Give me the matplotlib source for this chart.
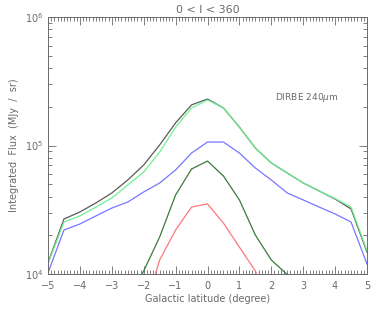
import matplotlib
matplotlib.use("Agg")
import matplotlib.pyplot as plt
from matplotlib.ticker import MultipleLocator, LogLocator, NullFormatter, FixedLocator

# Data
lat_full = [-5, -4.5, -4, -3.5, -3, -2.5, -2, -1.5, -1, -0.5, 0, 0.5, 1, 1.5, 2, 2.5, 3, 3.5, 4, 4.5, 5]
gray_vals = [1.22e4, 2.68e4, 3.04e4, 3.57e4, 4.27e4, 5.39e4, 7.05e4, 1.01e5, 1.50e5, 2.07e5, 2.30e5,
             1.96e5, 1.39e5, 9.56e4, 7.31e4, 6.11e4, 5.11e4, 4.43e4, 3.83e4, 3.21e4, 1.48e4]
green_vals = [1.20e4, 2.54e4, 2.83e4, 3.32e4, 3.90e4, 4.93e4, 6.22e4, 8.90e4, 1.39e5, 1.96e5, 2.26e5,
              1.96e5, 1.39e5, 9.56e4, 7.31e4, 6.11e4, 5.11e4, 4.43e4, 3.86e4, 3.32e4, 1.52e4]
blue_vals = [1.02e4, 2.20e4, 2.45e4, 2.83e4, 3.26e4, 3.63e4, 4.35e4, 5.11e4, 6.45e4, 8.74e4, 1.064e5,
             1.064e5, 8.74e4, 6.68e4, 5.39e4, 4.27e4, 3.77e4, 3.32e4, 2.93e4, 2.54e4, 1.196e4]
lat_dg = [-2.5, -2, -1.5, -1, -0.5, 0, 0.5, 1, 1.5, 2, 2.5, 3]
dkgreen_vals = [6.0e3, 1.055e4, 1.94e4, 4.12e4, 6.56e4, 7.57e4, 5.79e4, 3.77e4, 2.01e4, 1.285e4, 9.9e3, 6.0e3]
lat_red = [-2, -1.5, -1, -0.5, 0, 0.5, 1, 1.5, 2]
red_vals = [5.0e3, 1.285e4, 2.20e4, 3.32e4, 3.51e4, 2.49e4, 1.62e4, 1.055e4, 5.0e3]

xticks = [-5, -4, -3, -2, -1, 0, 1, 2, 3, 4, 5]
yticks = [1e4, 1e5, 1e6]
ytick_labels = ["10$^4$", "10$^5$", "10$^6$"]

tc = "#6a6a6a"
plt.rcParams['font.family'] = ['DejaVu Sans']
fig = plt.figure(figsize=(3.82, 3.11), dpi=100)
ax = fig.add_axes([48/382, 1-274/311, (367-48)/382, (274-17)/311])

lw = 0.9
ax.plot(lat_full, gray_vals, color="#5a5a5a", lw=lw)
ax.plot(lat_full, green_vals, color="#70f090", lw=lw)
ax.plot(lat_full, blue_vals, color="#7777ff", lw=lw)
ax.plot(lat_dg, dkgreen_vals, color="#3a7a3a", lw=lw)
ax.plot(lat_red, red_vals, color="#ff7777", lw=lw)

ax.set_yscale("log")
ax.set_xlim(-5, 5)
ax.set_ylim(1e4, 1e6)
ax.xaxis.set_major_locator(FixedLocator(xticks))
ax.xaxis.set_minor_locator(MultipleLocator(0.1))
ax.set_xticklabels([str(t).replace('-', '\u2212') for t in xticks])
ax.yaxis.set_major_locator(FixedLocator(yticks))
ax.set_yticklabels(ytick_labels)
ax.yaxis.set_minor_locator(LogLocator(base=10, subs=range(2, 10)))
ax.yaxis.set_minor_formatter(NullFormatter())

ax.tick_params(which="both", direction="in", top=True, right=True, colors=tc, labelsize=7, width=0.6)
ax.tick_params(which="major", length=6)
ax.tick_params(which="minor", length=3)
ax.tick_params(axis="x", pad=5)
for s in ax.spines.values():
    s.set_color(tc)
    s.set_linewidth(0.7)

ax.set_xlabel("Galactic latitude (degree)", color=tc, fontsize=7, labelpad=2)
ax.set_ylabel("Integrated  Flux  (MJy  /  sr)", color=tc, fontsize=7, labelpad=4)
ax.set_title("0 < l < 360", color=tc, fontsize=8, pad=3)
ax.text(2.12, 2.38e5, "DIRBE 240$\\mu$m", color=tc, fontsize=6.5, ha="left", va="center")

fig.savefig("out.png", dpi=100)
